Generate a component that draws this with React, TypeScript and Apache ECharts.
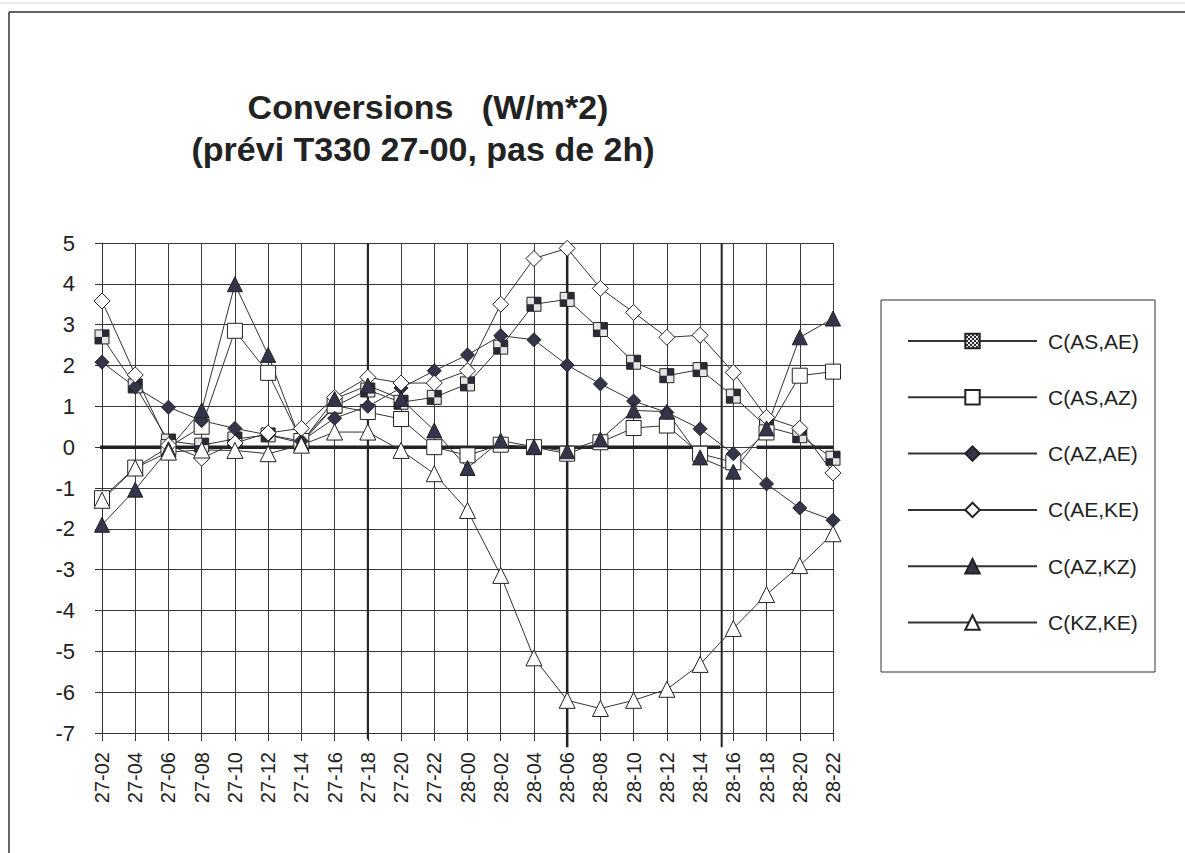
import React, { useEffect, useRef } from "react";
import * as echarts from "echarts";

const categories = [
  "27-02", "27-04", "27-06", "27-08", "27-10", "27-12", "27-14", "27-16", "27-18", "27-20", "27-22",
  "28-00", "28-02", "28-04", "28-06", "28-08", "28-10", "28-12", "28-14", "28-16", "28-18", "28-20", "28-22",
];

const seriesNames = ["C(AS,AE)", "C(AS,AZ)", "C(AZ,AE)", "C(AE,KE)", "C(AZ,KZ)", "C(KZ,KE)"];

const asAe = [2.7, 1.5, 0.15, 0.05, 0.2, 0.3, 0.1, 1.0, 1.4, 1.1, 1.22, 1.55, 2.45, 3.5, 3.62, 2.88, 2.08, 1.75, 1.9, 1.25, 0.5, 0.28, -0.27];
const asAz = [-1.25, -0.5, 0.0, 0.5, 2.85, 1.82, 0.15, 1.02, 0.86, 0.69, 0.0, -0.2, 0.06, 0.0, -0.16, 0.12, 0.47, 0.53, -0.16, -0.37, 0.36, 1.75, 1.85];
const azAe = [2.08, 1.47, 0.98, 0.65, 0.46, 0.3, 0.15, 0.71, 1.0, 1.45, 1.87, 2.26, 2.73, 2.63, 2.01, 1.55, 1.13, 0.85, 0.45, -0.16, -0.9, -1.49, -1.79];
const aeKe = [3.58, 1.77, 0.05, -0.27, 0.1, 0.35, 0.46, 1.22, 1.71, 1.57, 1.57, 1.87, 3.5, 4.62, 4.87, 3.89, 3.3, 2.69, 2.74, 1.83, 0.73, 0.46, -0.63];
const azKz = [-1.9, -1.04, -0.05, 0.9, 3.99, 2.26, 0.1, 1.18, 1.51, 1.18, 0.41, -0.51, 0.16, 0.01, -0.1, 0.19, 0.9, 0.87, -0.25, -0.6, 0.46, 2.69, 3.15];
const kzKe = [-1.3, -0.51, -0.12, -0.07, -0.08, -0.16, 0.05, 0.37, 0.37, -0.08, -0.65, -1.55, -3.14, -5.16, -6.2, -6.4, -6.2, -5.93, -5.32, -4.44, -3.61, -2.9, -2.12];

// Heavy reference lines (category index positions / values)
const verticalMarks = [
  { x: 8, yTop: 5, yBottom: -7.15, width: 2 },
  { x: 14, yTop: 5, yBottom: -7.35, width: 2.5 },
  { x: 18.65, yTop: 5, yBottom: -7.35, width: 2 },
];
const zeroSegments = [
  [-0.2, 18.6],
  [19.7, 22],
];

const FONT = "'Liberation Sans', Arial, sans-serif";

export default function App() {
  const ref = useRef<HTMLDivElement>(null);

  useEffect(() => {
    const el = ref.current!;
    const chart = echarts.init(el, null, { renderer: "svg" });

    const cv = document.createElement("canvas");
    cv.width = 4;
    cv.height = 4;
    const ctx = cv.getContext("2d")!;
    ctx.fillStyle = "#2b2b36";
    ctx.fillRect(0, 0, 4, 4);
    ctx.fillStyle = "#e6e6e6";
    ctx.fillRect(0, 0, 2, 2);
    ctx.fillRect(2, 2, 2, 2);
    const checker: any = { image: cv, repeat: "repeat" };

    const dark = "#34344a";
    const mk = (name: string, data: number[], symbol: string, size: number, fill: any) => ({
      name,
      type: "line",
      data,
      symbol,
      symbolSize: size,
      showSymbol: true,
      xAxisIndex: 0,
      yAxisIndex: 0,
      lineStyle: { color: "#333", width: 1 },
      itemStyle: { color: fill, borderColor: "#222", borderWidth: 1 },
      emphasis: { disabled: true },
      z: 3,
    });

    const markSeries: any[] = [];
    verticalMarks.forEach((m) => {
      markSeries.push({
        type: "line",
        xAxisIndex: 1,
        yAxisIndex: 0,
        data: [
          [m.x, m.yTop],
          [m.x, m.yBottom],
        ],
        symbol: "none",
        clip: false,
        silent: true,
        lineStyle: { color: "#222", width: m.width },
        z: 2,
      });
    });
    zeroSegments.forEach((s) => {
      markSeries.push({
        type: "line",
        xAxisIndex: 1,
        yAxisIndex: 0,
        data: [
          [s[0], 0],
          [s[1], 0],
        ],
        symbol: "none",
        clip: false,
        silent: true,
        lineStyle: { color: "#222", width: 3.5 },
        z: 2,
      });
    });

    chart.setOption({
      animation: false,
      backgroundColor: "#fff",
      textStyle: { fontFamily: FONT },
      grid: { left: 102, top: 243, width: 731, height: 490, containLabel: false },
      xAxis: [
        {
          type: "category",
          data: categories,
          boundaryGap: false,
          position: "bottom",
          axisLine: { show: true, onZero: false, lineStyle: { color: "#333", width: 1 } },
          axisTick: { show: true, inside: false, length: 8, interval: 0, lineStyle: { color: "#333" } },
          splitLine: { show: true, interval: 0, lineStyle: { color: "#3a3a3a", width: 1 } },
          axisLabel: {
            interval: 0,
            rotate: 90,
            margin: 19,
            fontSize: 20,
            color: "#222",
            fontFamily: FONT,
          },
        },
        { type: "value", min: 0, max: 22, show: false },
      ],
      yAxis: {
        type: "value",
        min: -7,
        max: 5,
        interval: 1,
        axisLine: { show: true, lineStyle: { color: "#333", width: 1 } },
        axisTick: { show: true, length: 7, lineStyle: { color: "#333" } },
        splitLine: { show: true, lineStyle: { color: "#3a3a3a", width: 1 } },
        axisLabel: { fontSize: 22, color: "#222", margin: 27, fontFamily: FONT },
      },
      legend: {
        orient: "vertical",
        left: 902,
        top: 325,
        itemWidth: 129,
        itemHeight: 18,
        itemGap: 34.3,
        selectedMode: false,
        data: seriesNames,
        textStyle: { fontSize: 21, color: "#222", lineHeight: 22, fontFamily: FONT, padding: [0, 0, 0, 6] },
      },
      graphic: [
        { type: "line", shape: { x1: 0, y1: 3, x2: 1185, y2: 3 }, style: { stroke: "#d0d0d0", lineWidth: 1 }, silent: true },
        { type: "line", shape: { x1: 9, y1: 12, x2: 1185, y2: 12 }, style: { stroke: "#333", lineWidth: 1.5 }, silent: true },
        { type: "line", shape: { x1: 9, y1: 12, x2: 9, y2: 853 }, style: { stroke: "#333", lineWidth: 1.5 }, silent: true },
        { type: "rect", shape: { x: 881, y: 300, width: 274, height: 372 }, style: { fill: "none", stroke: "#333", lineWidth: 1 }, silent: true, z: -1 },
        {
          type: "text",
          x: 428,
          y: 107,
          style: { text: "Conversions   (W/m*2)", font: `bold 34px ${FONT}`, fill: "#222", align: "center", verticalAlign: "middle" },
          silent: true,
        },
        {
          type: "text",
          x: 423,
          y: 149,
          style: { text: "(prévi T330 27-00, pas de 2h)", font: `bold 34px ${FONT}`, fill: "#222", align: "center", verticalAlign: "middle" },
          silent: true,
        },
      ],
      series: [
        ...markSeries,
        mk(seriesNames[0], asAe, "rect", 14, checker),
        mk(seriesNames[1], asAz, "rect", 15, "#fff"),
        mk(seriesNames[2], azAe, "diamond", 14, dark),
        mk(seriesNames[3], aeKe, "diamond", 16, "#fff"),
        mk(seriesNames[4], azKz, "triangle", 15, dark),
        mk(seriesNames[5], kzKe, "triangle", 16, "#fff"),
      ],
    });

    return () => chart.dispose();
  }, []);

  return (
    <div
      ref={ref}
      style={{ position: "fixed", left: 0, top: 0, width: 1185, height: 853, background: "#fff" }}
    />
  );
}
